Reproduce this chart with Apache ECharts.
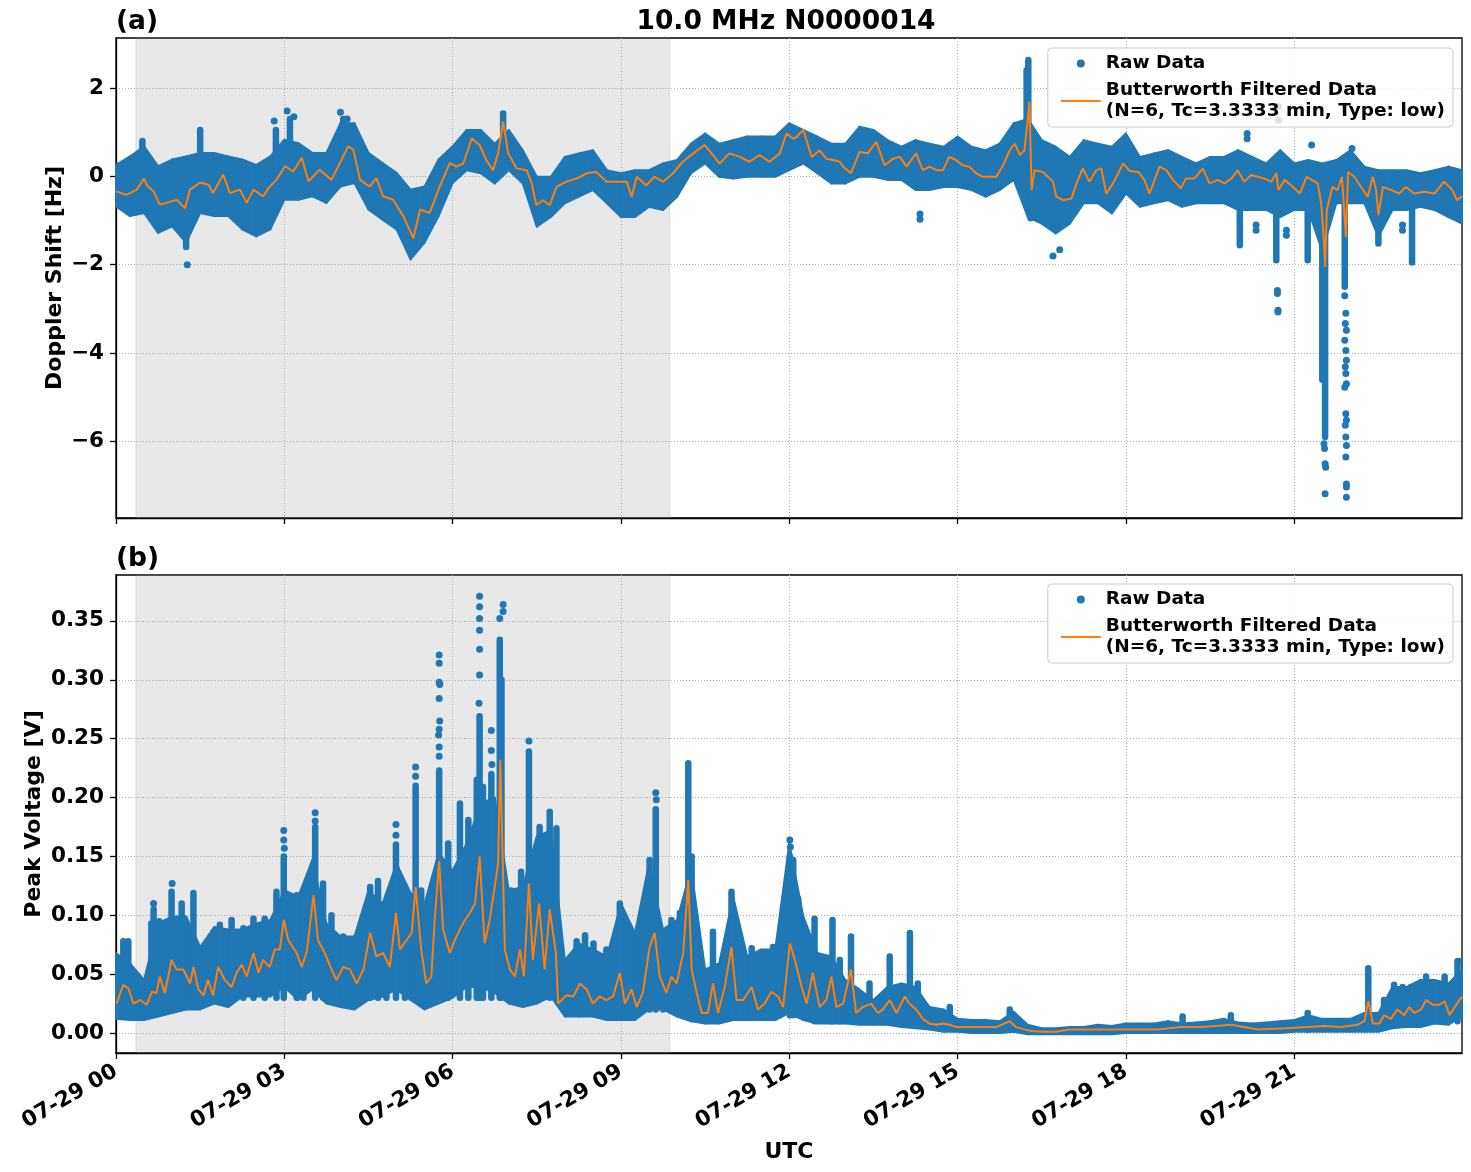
<!DOCTYPE html>
<html>
<head>
<meta charset="utf-8">
<script src="https://cdn.jsdelivr.net/npm/echarts@6/dist/echarts.min.js"></script>
<style>
  html, body { margin: 0; padding: 0; background: #fff; }
  #chart { width: 1471px; height: 1172px; }
</style>
</head>
<body>
<div id="chart"></div>
<script>
// hours after 07-29 00:00 UTC
const tickHours = [0, 3, 6, 9, 12, 15, 18, 21]
const dopplerTicks = [-6, -4, -2, 0, 2]
const voltTicks = [0, 0.05, 0.1, 0.15, 0.2, 0.25, 0.3, 0.35]
const shadeStart = 0.355
const shadeEnd = 9.87

// raw data envelope, one value every 15 min, last one at the axis end
const bandHours = Array.from({ length: 96 }, (_, i) => i * 0.25).concat([23.99])

const dopplerUpper = [
  0.26, 0.45, 0.68, 0.23, 0.38, 0.45, 0.53, 0.53,
  0.45, 0.38, 0.26, 0.45, 0.83, 0.75, 0.53, 0.53,
  1.2, 1.2, 0.53, 0.3, 0.08, -0.3, -0.23, 0.38,
  0.68, 1.05, 1.05, 0.74, 1.05, 0.59, -0.01, -0.01,
  0.44, 0.52, 0.59, 0.14, 0.07, 0.14, 0.14, 0.29,
  0.37, 0.74, 0.97, 0.74, 0.82, 0.9, 0.9, 0.9,
  1.2, 1.05, 0.9, 0.74, 0.74, 1.12, 1.05, 0.82,
  0.67, 0.82, 0.74, 0.67, 0.9, 0.67, 0.59, 0.74,
  1.2, 1.3, 0.82, 0.67, 0.44, 0.82, 0.74, 0.67,
  0.97, 0.44, 0.52, 0.59, 0.44, 0.29, 0.44, 0.44,
  0.59, 0.44, 0.29, 0.59, 0.29, 0.37, 0.29, 0.37,
  0.59, 0.22, 0.14, 0.14, 0.14, 0.07, 0.14, 0.22,
  0.14,
]
const dopplerLower = [
  -0.68, -0.9, -0.83, -1.28, -1.13, -1.5, -0.83, -0.9,
  -0.9, -1.2, -1.36, -1.2, -0.53, -0.53, -0.45, -0.6,
  -0.23, -0.15, -0.75, -0.98, -1.2, -1.88, -1.5, -0.9,
  -0.15, 0.14, 0.07, -0.16, 0.14, -0.16, -1.14, -0.92,
  -0.61, -0.46, -0.31, -0.61, -0.92, -0.92, -0.69, -0.76,
  -0.46, 0.07, 0.29, -0.01, -0.05, -0.01, -0.01, -0.01,
  0.14, 0.29, 0.07, -0.16, -0.16, -0.01, -0.01, -0.08,
  -0.08, -0.31, -0.31, -0.24, -0.24, -0.31, -0.46, -0.31,
  -0.08, -0.92, -1.07, -1.29, -1.07, -0.61, -0.61, -0.84,
  -0.39, -0.69, -0.61, -0.54, -0.69, -0.61, -0.61, -0.61,
  -0.76, -0.76, -0.76, -0.92, -0.76, -0.76, -1.7, -0.61,
  -0.61, -0.61, -1.37, -0.76, -0.76, -0.69, -0.76, -0.92,
  -1.07,
]
const voltUpper = [
  0.068, 0.059, 0.045, 0.093, 0.099, 0.099, 0.073, 0.09,
  0.088, 0.088, 0.093, 0.096, 0.121, 0.116, 0.147, 0.093,
  0.082, 0.082, 0.121, 0.11, 0.144, 0.119, 0.11, 0.153,
  0.138, 0.161, 0.195, 0.2, 0.121, 0.124, 0.167, 0.172,
  0.062, 0.076, 0.071, 0.065, 0.11, 0.085, 0.144, 0.088,
  0.096, 0.14, 0.054, 0.059, 0.116, 0.065, 0.071, 0.071,
  0.161, 0.099, 0.068, 0.065, 0.045, 0.037, 0.028, 0.039,
  0.042, 0.039, 0.022, 0.02, 0.012, 0.011, 0.011, 0.01,
  0.018, 0.007, 0.004, 0.004, 0.005, 0.005, 0.007, 0.006,
  0.008, 0.008, 0.008, 0.01, 0.008, 0.009, 0.01, 0.012,
  0.009, 0.008, 0.009, 0.01, 0.011, 0.015, 0.012, 0.012,
  0.012, 0.017, 0.017, 0.039, 0.039, 0.045, 0.045, 0.042,
  0.054,
]
const voltLower = [
  0.012, 0.011, 0.011, 0.014, 0.017, 0.02, 0.02, 0.025,
  0.022, 0.031, 0.031, 0.031, 0.039, 0.028, 0.037, 0.025,
  0.022, 0.02, 0.028, 0.031, 0.037, 0.028, 0.02, 0.025,
  0.03, 0.039, 0.039, 0.034, 0.025, 0.022, 0.025, 0.031,
  0.014, 0.014, 0.014, 0.011, 0.011, 0.011, 0.02, 0.02,
  0.014, 0.01, 0.008, 0.008, 0.011, 0.011, 0.011, 0.011,
  0.017, 0.011, 0.008, 0.008, 0.008, 0.007, 0.007, 0.007,
  0.005, 0.004, 0.003, 0.001, 0.001, 0, 0, 0,
  0.001, -0.001, -0.001, -0.001, -0.001, -0.001, -0.001, -0.001,
  0, 0, 0, 0, 0, 0, 0, 0,
  0, 0, 0, 0, 0.001, 0.001, 0.001, 0.001,
  0.001, 0.001, 0.001, 0.004, 0.005, 0.005, 0.008, 0.007,
  0.014,
]

// dense vertical runs of raw points: [hour, from, to]
const dopplerSpikes = [
  [0.47, 0, 0.8], [1.25, -0.8, -1.6], [1.5, 0, 1.05], [2.85, 0, 1.05], [3.1, 0.3, 1.3],
  [4.05, 0.5, 1.3], [6.9, 0.5, 1.42], [16.23, 0.3, 2.4], [16.26, 0.3, 2.63], [16.3, -0.3, -0.95],
  [20.03, -0.7, -1.56], [20.68, -0.8, -1.9], [21.24, -0.7, -1.9], [21.5, -1, -4.6],
  [21.55, -1, -5.9], [21.9, -0.5, -2.5], [22.5, -0.8, -1.52], [23.1, -0.7, -1.95],
]
const voltSpikes = [
  [0.13, 0.03, 0.078], [0.22, 0.03, 0.078], [0.63, 0.03, 0.093], [0.67, 0.03, 0.105], [0.77, 0.03, 0.095],
  [0.99, 0.03, 0.12], [1.17, 0.03, 0.11], [1.38, 0.03, 0.119], [1.59, 0.03, 0.075], [1.85, 0.03, 0.092],
  [2.06, 0.03, 0.096], [2.27, 0.03, 0.089], [2.45, 0.03, 0.097], [2.65, 0.03, 0.097], [2.86, 0.03, 0.12],
  [2.99, 0.03, 0.15], [3.22, 0.03, 0.117], [3.34, 0.03, 0.117], [3.55, 0.03, 0.175], [3.69, 0.03, 0.127],
  [3.84, 0.03, 0.1], [4.05, 0.03, 0.082], [4.29, 0.03, 0.082], [4.53, 0.03, 0.124], [4.67, 0.03, 0.129],
  [4.82, 0.03, 0.107], [4.99, 0.03, 0.16], [5.15, 0.03, 0.124], [5.34, 0.03, 0.21], [5.44, 0.03, 0.121],
  [5.59, 0.03, 0.11], [5.76, 0.03, 0.223], [5.92, 0.03, 0.161], [6.13, 0.03, 0.195], [6.28, 0.03, 0.181],
  [6.43, 0.03, 0.215], [6.48, 0.03, 0.269], [6.54, 0.03, 0.209], [6.69, 0.03, 0.22], [6.84, 0.03, 0.334],
  [6.87, 0.03, 0.3], [7.04, 0.03, 0.121], [7.22, 0.03, 0.137], [7.36, 0.03, 0.239], [7.55, 0.03, 0.175],
  [7.73, 0.03, 0.188], [7.85, 0.03, 0.174], [8.21, 0.02, 0.078], [8.36, 0.02, 0.083], [8.51, 0.02, 0.076],
  [8.74, 0.02, 0.071], [8.98, 0.02, 0.11], [9.16, 0.02, 0.085], [9.39, 0.02, 0.09], [9.51, 0.02, 0.147],
  [9.62, 0.02, 0.19], [9.75, 0.02, 0.085], [9.9, 0.02, 0.096], [10.05, 0.02, 0.102], [10.2, 0.02, 0.229],
  [10.26, 0.02, 0.15], [10.47, 0.015, 0.034], [10.64, 0.015, 0.086], [10.76, 0.015, 0.054], [10.97, 0.015, 0.12],
  [11.12, 0.015, 0.054], [11.33, 0.015, 0.072], [11.5, 0.015, 0.056], [11.71, 0.015, 0.073], [11.83, 0.015, 0.079],
  [12.01, 0.015, 0.15], [12.07, 0.015, 0.147], [12.16, 0.015, 0.114], [12.45, 0.01, 0.097], [12.77, 0.01, 0.096],
  [12.9, 0.01, 0.062], [13.1, 0.01, 0.082], [13.43, 0.01, 0.042], [13.79, 0.01, 0.065], [14.15, 0.01, 0.085],
  [14.29, 0.01, 0.042], [14.86, 0.005, 0.022], [15.93, 0.005, 0.02], [19.01, 0.003, 0.014], [19.87, 0.003, 0.015],
  [21.24, 0.003, 0.017], [22.32, 0.005, 0.055], [22.6, 0.005, 0.028], [22.78, 0.01, 0.041], [22.93, 0.01, 0.039],
  [23.08, 0.01, 0.039], [23.35, 0.01, 0.048], [23.53, 0.01, 0.042], [23.68, 0.01, 0.048], [23.91, 0.01, 0.061],
]

// isolated raw points: [hour, value]
const dopplerDots = [
  [1.27, -2.0], [3.05, 1.48], [3.17, 1.35], [2.82, 1.25], [4.0, 1.45], [4.12, 1.3],
  [16.7, -1.8], [16.82, -1.66], [14.33, -0.85], [14.33, -0.97],
  [20.7, -2.58], [20.7, -2.65], [20.71, -3.03], [20.71, -3.07], [20.72, 1.58], [20.72, 1.27],
  [20.16, 0.97], [20.16, 0.85], [20.32, -1.1], [20.32, -1.22], [20.86, -1.22], [20.86, -1.33],
  [22.93, -1.1], [22.93, -1.22], [21.31, 0.71], [22.03, 0.63],
  [21.53, -6.05], [21.54, -6.16], [21.55, -6.5], [21.56, -6.58], [21.55, -7.18],
  [21.9, -2.7], [21.92, -3.1], [21.91, -3.33], [21.93, -3.48], [21.9, -3.71], [21.92, -3.94],
  [21.93, -4.16], [21.91, -4.31], [21.92, -4.46], [21.93, -4.69], [21.9, -4.77], [21.92, -5.37],
  [21.93, -5.52], [21.91, -5.63], [21.92, -5.9], [21.93, -6.09], [21.92, -6.35], [21.93, -6.96],
  [21.93, -7.03], [21.93, -7.26],
]
const voltDots = [
  [2.99, 0.172], [2.99, 0.164], [3.0, 0.157], [3.55, 0.187], [3.55, 0.18], [4.99, 0.177], [4.99, 0.168],
  [5.34, 0.226], [5.34, 0.218], [5.76, 0.321], [5.76, 0.314], [5.76, 0.298], [5.77, 0.296], [5.76, 0.284],
  [5.77, 0.265], [5.76, 0.258], [5.75, 0.253], [5.76, 0.243], [5.76, 0.235],
  [6.48, 0.371], [6.48, 0.362], [6.48, 0.352], [6.48, 0.342], [6.48, 0.326], [6.48, 0.304], [6.47, 0.28],
  [6.9, 0.364], [6.9, 0.358], [6.84, 0.352], [6.69, 0.257], [6.69, 0.24], [6.7, 0.228], [7.36, 0.248],
  [9.62, 0.204], [9.63, 0.198], [12.01, 0.164], [12.02, 0.158], [23.93, 0.061], [0.67, 0.11], [1.0, 0.127],
]

// Butterworth low-pass output: [hour, value]
const dopplerFiltered = [
  [0, -0.34], [0.19, -0.42], [0.37, -0.3], [0.5, -0.05], [0.55, -0.2], [0.67, -0.34], [0.78, -0.64], [0.9, -0.6],
  [1.08, -0.53], [1.23, -0.72], [1.32, -0.3], [1.5, -0.14], [1.65, -0.19], [1.73, -0.38], [1.91, 0.04], [2.03, -0.38],
  [2.21, -0.3], [2.33, -0.6], [2.45, -0.3], [2.62, -0.45], [2.74, -0.23], [2.86, -0.08], [3.01, 0.23], [3.16, 0.11],
  [3.31, 0.42], [3.43, -0.11], [3.63, 0.15], [3.84, -0.08], [3.99, 0.3], [4.14, 0.68], [4.23, 0.6], [4.35, -0.08],
  [4.52, -0.23], [4.64, -0.04], [4.76, -0.45], [4.94, -0.53], [5.12, -0.9], [5.3, -1.4], [5.42, -0.75], [5.59, -0.83],
  [5.77, -0.23], [5.95, 0.3], [6.07, 0.22], [6.19, 0.29], [6.34, 0.86], [6.48, 0.71], [6.6, 0.37], [6.72, 0.14],
  [6.81, 0.52], [6.9, 1.24], [6.99, 0.52], [7.14, 0.18], [7.32, 0.14], [7.41, -0.16], [7.49, -0.65], [7.61, -0.54],
  [7.73, -0.65], [7.85, -0.24], [8.03, -0.12], [8.21, -0.05], [8.39, 0.07], [8.56, 0.1], [8.74, -0.12], [8.92, -0.12],
  [9.1, -0.12], [9.19, -0.46], [9.28, -0.01], [9.45, -0.2], [9.6, -0.01], [9.75, -0.12], [9.93, 0.07], [10.1, 0.33],
  [10.29, 0.52], [10.49, 0.71], [10.64, 0.48], [10.76, 0.29], [10.93, 0.52], [11.12, 0.44], [11.29, 0.33], [11.47, 0.48],
  [11.65, 0.33], [11.83, 0.52], [11.95, 0.97], [12.07, 0.85], [12.13, 0.89], [12.25, 1.05], [12.4, 0.44], [12.54, 0.59],
  [12.66, 0.4], [12.78, 0.37], [12.9, 0.33], [12.96, 0.22], [13.1, 0.07], [13.25, 0.55], [13.4, 0.52], [13.55, 0.78],
  [13.7, 0.25], [13.85, 0.4], [13.97, 0.44], [14.09, 0.22], [14.26, 0.52], [14.38, 0.14], [14.5, 0.22], [14.62, 0.14],
  [14.74, 0.14], [14.85, 0.44], [14.97, 0.37], [15.09, 0.25], [15.21, 0.22], [15.33, 0.07], [15.45, -0.01], [15.57, -0.01],
  [15.69, -0.01], [15.81, 0.25], [15.93, 0.59], [16.02, 0.74], [16.11, 0.48], [16.19, 0.59], [16.25, 1.27], [16.28, 1.69],
  [16.32, -0.31], [16.37, 0.14], [16.52, 0.1], [16.7, -0.12], [16.76, -0.46], [16.88, -0.54], [17.03, -0.5], [17.12, -0.16],
  [17.23, 0.18], [17.35, -0.12], [17.47, 0.14], [17.56, 0.18], [17.65, -0.39], [17.77, -0.16], [17.95, 0.29], [18.07, 0.12],
  [18.22, 0.1], [18.33, -0.08], [18.42, -0.39], [18.51, -0.08], [18.6, 0.22], [18.72, 0.14], [18.84, -0.08], [18.98, -0.27],
  [19.07, -0.05], [19.22, -0.05], [19.37, 0.18], [19.49, -0.16], [19.64, -0.08], [19.76, -0.16], [19.88, -0.05], [19.99, 0.14],
  [20.11, -0.12], [20.23, 0.03], [20.35, -0.01], [20.47, -0.05], [20.59, -0.12], [20.68, 0.07], [20.72, -0.31], [20.83, -0.08],
  [20.98, -0.24], [21.1, -0.39], [21.22, -0.01], [21.31, -0.08], [21.42, -0.16], [21.48, -0.61], [21.52, -1.29], [21.55, -2.05],
  [21.58, -0.76], [21.68, -0.24], [21.77, -0.31], [21.85, -0.01], [21.89, -0.76], [21.92, -1.37], [21.96, 0.1], [22.07, -0.01],
  [22.19, -0.24], [22.31, -0.46], [22.4, -0.01], [22.46, -0.31], [22.5, -0.88], [22.58, -0.24], [22.73, -0.31], [22.87, -0.39],
  [22.99, -0.24], [23.14, -0.39], [23.32, -0.35], [23.5, -0.39], [23.67, -0.12], [23.82, -0.31], [23.9, -0.54], [23.99, -0.45],
]
const voltFiltered = [
  [0.01, 0.025], [0.13, 0.041], [0.22, 0.038], [0.31, 0.025], [0.43, 0.028], [0.55, 0.024], [0.64, 0.035], [0.72, 0.034],
  [0.78, 0.048], [0.87, 0.034], [0.99, 0.062], [1.08, 0.054], [1.2, 0.054], [1.32, 0.042], [1.38, 0.056], [1.47, 0.037],
  [1.56, 0.032], [1.64, 0.045], [1.73, 0.032], [1.82, 0.056], [1.94, 0.045], [2.06, 0.039], [2.15, 0.051], [2.24, 0.058],
  [2.33, 0.048], [2.45, 0.068], [2.54, 0.051], [2.62, 0.062], [2.74, 0.056], [2.83, 0.071], [2.92, 0.071], [2.99, 0.096],
  [3.07, 0.079], [3.22, 0.068], [3.31, 0.056], [3.4, 0.069], [3.52, 0.117], [3.6, 0.079], [3.72, 0.068], [3.84, 0.054],
  [3.93, 0.045], [4.05, 0.056], [4.17, 0.054], [4.29, 0.042], [4.41, 0.054], [4.53, 0.085], [4.64, 0.065], [4.76, 0.068],
  [4.88, 0.056], [4.99, 0.102], [5.06, 0.071], [5.18, 0.079], [5.27, 0.085], [5.34, 0.124], [5.44, 0.071], [5.53, 0.042],
  [5.62, 0.048], [5.68, 0.096], [5.76, 0.146], [5.83, 0.088], [5.95, 0.068], [6.04, 0.079], [6.13, 0.088], [6.22, 0.096],
  [6.31, 0.102], [6.4, 0.11], [6.48, 0.15], [6.57, 0.076], [6.66, 0.096], [6.75, 0.124], [6.81, 0.144], [6.85, 0.232],
  [6.93, 0.071], [7.02, 0.054], [7.11, 0.048], [7.2, 0.071], [7.27, 0.048], [7.36, 0.127], [7.43, 0.062], [7.54, 0.11],
  [7.64, 0.054], [7.73, 0.105], [7.84, 0.068], [7.88, 0.025], [8.03, 0.032], [8.15, 0.031], [8.27, 0.042], [8.39, 0.037],
  [8.5, 0.025], [8.62, 0.031], [8.74, 0.028], [8.86, 0.031], [8.98, 0.051], [9.07, 0.025], [9.19, 0.037], [9.28, 0.022],
  [9.39, 0.034], [9.51, 0.073], [9.6, 0.085], [9.69, 0.048], [9.81, 0.034], [9.9, 0.048], [9.99, 0.042], [10.11, 0.068],
  [10.2, 0.13], [10.26, 0.054], [10.35, 0.034], [10.44, 0.017], [10.55, 0.017], [10.64, 0.042], [10.73, 0.017], [10.85, 0.039],
  [10.97, 0.073], [11.06, 0.028], [11.18, 0.028], [11.33, 0.039], [11.44, 0.02], [11.56, 0.025], [11.68, 0.035], [11.8, 0.031],
  [11.89, 0.022], [12.01, 0.076], [12.1, 0.062], [12.22, 0.039], [12.31, 0.025], [12.42, 0.051], [12.54, 0.022], [12.66, 0.028],
  [12.75, 0.048], [12.84, 0.022], [12.96, 0.025], [13.1, 0.054], [13.19, 0.017], [13.31, 0.022], [13.46, 0.025], [13.58, 0.017],
  [13.67, 0.02], [13.79, 0.028], [13.91, 0.017], [14.06, 0.031], [14.14, 0.025], [14.26, 0.02], [14.38, 0.012], [14.5, 0.008],
  [14.62, 0.007], [14.74, 0.008], [14.86, 0.007], [14.98, 0.005], [15.21, 0.005], [15.45, 0.005], [15.69, 0.005], [15.93, 0.01],
  [16.04, 0.005], [16.28, 0.002], [16.52, 0.001], [16.76, 0.001], [16.99, 0.003], [17.35, 0.003], [17.71, 0.003], [17.95, 0.003],
  [18.57, 0.003], [18.98, 0.005], [19.34, 0.005], [19.88, 0.007], [20.35, 0.003], [20.83, 0.004], [21.24, 0.005], [21.54, 0.006],
  [21.84, 0.005], [22.13, 0.007], [22.25, 0.01], [22.32, 0.027], [22.4, 0.008], [22.52, 0.008], [22.6, 0.015], [22.72, 0.012],
  [22.84, 0.02], [22.96, 0.015], [23.05, 0.022], [23.14, 0.017], [23.26, 0.02], [23.35, 0.028], [23.47, 0.024], [23.59, 0.024],
  [23.68, 0.027], [23.77, 0.015], [23.86, 0.022], [23.99, 0.031],
]

const BLUE = '#1f77b4'
const ORANGE = '#ff7f0e'
const FONT = 'DejaVu Sans'
const RAW_NAME = 'Raw Data'
const FILT_NAME = 'Butterworth Filtered Data\n(N=6, Tc=3.3333 min, Type: low)'

const pad2 = (n) => String(n).padStart(2, '0')
const minusFmt = (v) => (v < 0 ? '\u2212' + Math.abs(v) : String(v))

const bandItems = (lower, upper) => {
  const items = []
  for (let i = 0; i < bandHours.length - 1; i++) {
    items.push([bandHours[i], lower[i], upper[i], bandHours[i + 1], lower[i + 1], upper[i + 1]])
  }
  return items
}

const renderBand = (params, api) => {
  const a = api.coord([api.value(0), api.value(1)])
  const b = api.coord([api.value(3), api.value(4)])
  const c = api.coord([api.value(3), api.value(5)])
  const d = api.coord([api.value(0), api.value(2)])
  return {
    type: 'polygon',
    shape: { points: [a, b, c, d] },
    style: { fill: BLUE, stroke: BLUE, lineWidth: 2, lineJoin: 'round' },
  }
}

const renderSpike = (params, api) => {
  const p0 = api.coord([api.value(0), api.value(1)])
  const p1 = api.coord([api.value(0), api.value(2)])
  return {
    type: 'line',
    shape: { x1: p0[0], y1: p0[1], x2: p1[0], y2: p1[1] },
    style: { stroke: BLUE, lineWidth: 6.5, lineCap: 'round' },
  }
}

const axisLineStyle = { color: '#000', width: 1.3 }
const gridLineStyle = { color: '#b0b0b0', width: 1, type: [1, 2] }
const tickFont = { color: '#000', fontSize: 21.5, fontWeight: 'bold', fontFamily: FONT }
const nameFont = { color: '#000', fontSize: 22, fontWeight: 'bold', fontFamily: FONT }

const makeXAxis = (gridIndex, showLabels) => ({
  type: 'value',
  gridIndex,
  min: 0,
  max: 23.99,
  interval: 3,
  axisLine: { show: true, onZero: false, lineStyle: axisLineStyle },
  axisTick: { show: true, length: 6, customValues: tickHours, lineStyle: axisLineStyle },
  axisLabel: {
    show: showLabels,
    customValues: tickHours,
    rotate: 30,
    margin: 17,
    formatter: (v) => '07-29 ' + pad2(v),
    ...tickFont,
  },
  splitLine: { show: true, lineStyle: gridLineStyle },
  name: showLabels ? 'UTC' : '',
  nameLocation: 'middle',
  nameMoveOverlap: false,
  nameGap: 88,
  nameTextStyle: nameFont,
})

const makeYAxis = (gridIndex, min, max, ticks, fmt, name, gap) => ({
  type: 'value',
  gridIndex,
  min,
  max,
  axisLine: { show: true, onZero: false, lineStyle: axisLineStyle },
  axisTick: { show: true, length: 6, customValues: ticks, lineStyle: axisLineStyle },
  axisLabel: { customValues: ticks, margin: 12, formatter: fmt, ...tickFont },
  splitLine: { show: true, lineStyle: gridLineStyle },
  name,
  nameLocation: 'middle',
  nameMoveOverlap: false,
  nameGap: gap,
  nameTextStyle: nameFont,
})

const panelSeries = (idx, lower, upper, spikes, dots, filtered) => [
  {
    type: 'line',
    xAxisIndex: idx,
    yAxisIndex: idx,
    data: [],
    z: 1,
    markArea: {
      silent: true,
      itemStyle: { color: 'rgba(128,128,128,0.18)', borderColor: 'rgba(128,128,128,0.22)', borderWidth: 1 },
      data: [[{ xAxis: shadeStart }, { xAxis: shadeEnd }]],
    },
  },
  {
    type: 'custom',
    name: 'band',
    xAxisIndex: idx,
    yAxisIndex: idx,
    renderItem: renderBand,
    data: bandItems(lower, upper),
    silent: true,
    z: 2,
  },
  {
    type: 'custom',
    name: 'spikes',
    xAxisIndex: idx,
    yAxisIndex: idx,
    renderItem: renderSpike,
    data: spikes,
    silent: true,
    z: 2,
  },
  {
    type: 'scatter',
    name: RAW_NAME,
    xAxisIndex: idx,
    yAxisIndex: idx,
    data: dots,
    symbol: 'circle',
    symbolSize: 7,
    itemStyle: { color: BLUE, opacity: 1 },
    silent: true,
    z: 2,
  },
  {
    type: 'line',
    name: FILT_NAME,
    xAxisIndex: idx,
    yAxisIndex: idx,
    data: filtered,
    symbol: 'none',
    lineStyle: { color: ORANGE, width: 2 },
    itemStyle: { color: ORANGE },
    silent: true,
    z: 3,
  },
]

const makeLegend = (top) => ({
  top,
  right: 18,
  orient: 'vertical',
  selectedMode: false,
  itemWidth: 40,
  itemHeight: 8,
  itemGap: 6,
  padding: [5, 8, 5, 12],
  backgroundColor: 'rgba(255,255,255,0.8)',
  borderColor: '#cccccc',
  borderWidth: 1,
  borderRadius: 4,
  textStyle: { color: '#000', fontSize: 18.5, fontWeight: 'bold', fontFamily: FONT, lineHeight: 21 },
  data: [
    { name: RAW_NAME, icon: 'circle', itemStyle: { opacity: 1 } },
    { name: FILT_NAME, itemStyle: { opacity: 0 } },
  ],
})

const titleText = (text, left, top, align) => ({
  text,
  left,
  top,
  padding: 0,
  textAlign: align,
  textStyle: { color: '#000', fontSize: 26.5, fontWeight: 'bold', fontFamily: FONT },
})

const chart = echarts.init(document.getElementById('chart'), null, { renderer: 'canvas' })
chart.setOption({
  animation: false,
  backgroundColor: '#fff',
  title: [
    titleText('10.0 MHz N0000014', 786, 9, 'center'),
    titleText('(a)', 116, 9, 'left'),
    titleText('(b)', 116, 546, 'left'),
  ],
  legend: [makeLegend(48), makeLegend(584)],
  grid: [
    { left: 116, right: 9, top: 38, height: 480, show: true, borderColor: '#000', borderWidth: 1.3, backgroundColor: 'transparent' },
    { left: 116, right: 9, top: 575, height: 478, show: true, borderColor: '#000', borderWidth: 1.3, backgroundColor: 'transparent' },
  ],
  xAxis: [makeXAxis(0, false), makeXAxis(1, true)],
  yAxis: [
    makeYAxis(0, -7.73, 3.13, dopplerTicks, minusFmt, 'Doppler Shift [Hz]', 50),
    makeYAxis(1, -0.017, 0.389, voltTicks, (v) => v.toFixed(2), 'Peak Voltage [V]', 71),
  ],
  series: [
    ...panelSeries(0, dopplerLower, dopplerUpper, dopplerSpikes, dopplerDots, dopplerFiltered),
    ...panelSeries(1, voltLower, voltUpper, voltSpikes, voltDots, voltFiltered),
  ],
})
window.addEventListener('resize', () => chart.resize())
</script>
</body>
</html>
